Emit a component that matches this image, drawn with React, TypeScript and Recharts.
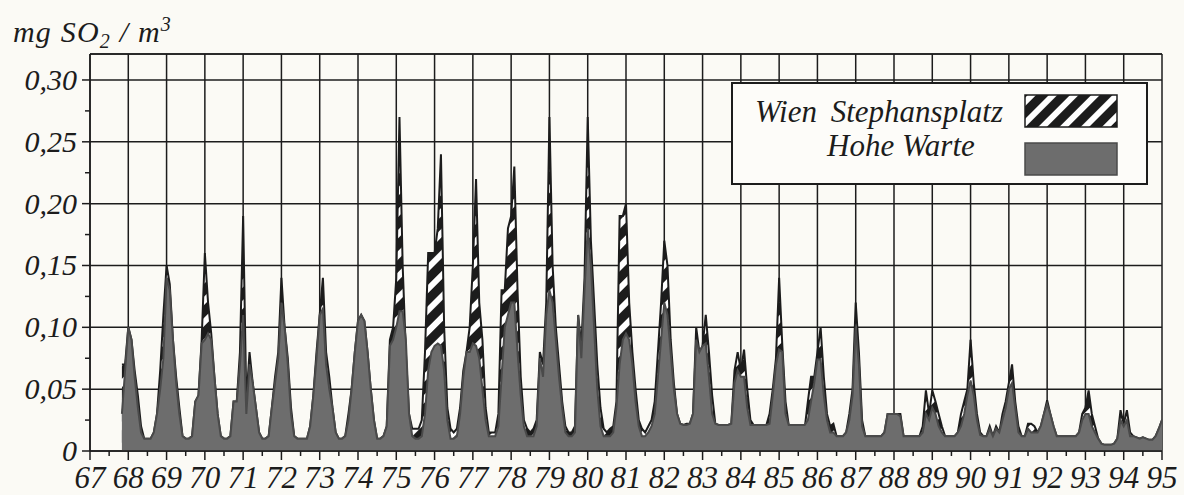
import { AreaChart, Area, XAxis, YAxis, CartesianGrid, ReferenceLine, Legend } from "recharts"

// monthly means, Jan 1967 .. Jan 1995 (mg SO2 / m3)
const stephansplatz = [
  null, null, null, null, null, null, null, null, null, null, 0.07, 0.07, // 67
  0.1, 0.09, 0.065, 0.045, 0.02, 0.01, 0.01, 0.01, 0.015, 0.03, 0.065, 0.11, // 68
  0.15, 0.135, 0.09, 0.06, 0.035, 0.012, 0.01, 0.01, 0.012, 0.04, 0.045, 0.09, // 69
  0.16, 0.12, 0.095, 0.06, 0.03, 0.012, 0.01, 0.01, 0.012, 0.04, 0.04, 0.08, // 70
  0.19, 0.04, 0.08, 0.055, 0.035, 0.015, 0.01, 0.01, 0.012, 0.035, 0.06, 0.08, // 71
  0.14, 0.1, 0.075, 0.035, 0.012, 0.01, 0.01, 0.01, 0.01, 0.02, 0.045, 0.08, // 72
  0.11, 0.14, 0.08, 0.06, 0.035, 0.015, 0.01, 0.01, 0.012, 0.03, 0.05, 0.08, // 73
  0.105, 0.11, 0.105, 0.08, 0.05, 0.025, 0.01, 0.01, 0.012, 0.02, 0.09, 0.1, // 74
  0.14, 0.27, 0.15, 0.08, 0.03, 0.018, 0.018, 0.018, 0.025, 0.08, 0.16, 0.16, // 75
  0.16, 0.18, 0.24, 0.1, 0.035, 0.018, 0.015, 0.018, 0.035, 0.065, 0.08, 0.1, // 76
  0.15, 0.22, 0.12, 0.09, 0.035, 0.015, 0.015, 0.015, 0.03, 0.13, 0.13, 0.18, // 77
  0.19, 0.23, 0.13, 0.06, 0.025, 0.018, 0.015, 0.018, 0.025, 0.08, 0.07, 0.12, // 78
  0.27, 0.15, 0.1, 0.07, 0.04, 0.02, 0.015, 0.015, 0.02, 0.11, 0.085, 0.14, // 79
  0.27, 0.17, 0.12, 0.07, 0.035, 0.018, 0.015, 0.018, 0.02, 0.04, 0.19, 0.19, // 80
  0.2, 0.12, 0.08, 0.05, 0.025, 0.018, 0.015, 0.02, 0.025, 0.04, 0.08, 0.12, // 81
  0.17, 0.15, 0.09, 0.055, 0.03, 0.022, 0.021, 0.022, 0.022, 0.03, 0.1, 0.08, // 82
  0.085, 0.11, 0.08, 0.045, 0.022, 0.021, 0.021, 0.021, 0.021, 0.022, 0.065, 0.08, // 83
  0.065, 0.082, 0.05, 0.025, 0.021, 0.021, 0.021, 0.021, 0.021, 0.03, 0.05, 0.075, // 84
  0.14, 0.085, 0.04, 0.021, 0.018, 0.015, 0.015, 0.015, 0.018, 0.04, 0.06, 0.06, // 85
  0.08, 0.1, 0.06, 0.03, 0.02, 0.022, 0.012, 0.012, 0.012, 0.015, 0.03, 0.05, // 86
  0.12, 0.08, 0.025, 0.012, 0.012, 0.012, 0.012, 0.012, 0.012, 0.015, 0.03, 0.03, // 87
  0.03, 0.03, 0.03, 0.012, 0.012, 0.012, 0.012, 0.012, 0.012, 0.02, 0.049, 0.03, // 88
  0.049, 0.04, 0.03, 0.02, 0.012, 0.012, 0.012, 0.012, 0.015, 0.03, 0.04, 0.05, // 89
  0.09, 0.055, 0.03, 0.015, 0.012, 0.012, 0.02, 0.012, 0.02, 0.015, 0.03, 0.04, // 90
  0.055, 0.07, 0.04, 0.02, 0.012, 0.012, 0.022, 0.022, 0.02, 0.015, 0.02, 0.03, // 91
  0.041, 0.03, 0.02, 0.012, 0.012, 0.012, 0.012, 0.012, 0.012, 0.012, 0.015, 0.03, // 92
  0.035, 0.049, 0.03, 0.02, 0.01, 0.006, 0.005, 0.005, 0.005, 0.006, 0.01, 0.033, // 93
  0.022, 0.033, 0.015, 0.012, 0.011, 0.01, 0.011, 0.01, 0.009, 0.009, 0.012, 0.018, // 94
  0.025, // 95
]

const hoheWarte = [
  null, null, null, null, null, null, null, null, null, null, 0.03, 0.065, // 67
  0.1, 0.09, 0.06, 0.035, 0.015, 0.01, 0.01, 0.01, 0.015, 0.03, 0.05, 0.075, // 68
  0.14, 0.13, 0.09, 0.055, 0.03, 0.012, 0.01, 0.01, 0.012, 0.04, 0.045, 0.087, // 69
  0.09, 0.095, 0.09, 0.06, 0.03, 0.012, 0.01, 0.01, 0.012, 0.04, 0.04, 0.07, // 70
  0.11, 0.03, 0.07, 0.055, 0.035, 0.015, 0.01, 0.01, 0.012, 0.035, 0.055, 0.075, // 71
  0.12, 0.1, 0.07, 0.03, 0.012, 0.01, 0.01, 0.01, 0.01, 0.02, 0.045, 0.075, // 72
  0.11, 0.115, 0.07, 0.05, 0.035, 0.015, 0.01, 0.01, 0.012, 0.025, 0.05, 0.08, // 73
  0.105, 0.11, 0.105, 0.08, 0.05, 0.025, 0.01, 0.01, 0.012, 0.02, 0.085, 0.09, // 74
  0.1, 0.113, 0.113, 0.09, 0.03, 0.012, 0.01, 0.01, 0.012, 0.03, 0.065, 0.08, // 75
  0.085, 0.087, 0.085, 0.065, 0.025, 0.01, 0.01, 0.012, 0.03, 0.06, 0.08, 0.08, // 76
  0.087, 0.085, 0.075, 0.05, 0.025, 0.012, 0.012, 0.012, 0.02, 0.06, 0.1, 0.11, // 77
  0.12, 0.12, 0.08, 0.045, 0.02, 0.012, 0.012, 0.012, 0.02, 0.075, 0.06, 0.11, // 78
  0.13, 0.12, 0.09, 0.06, 0.035, 0.015, 0.012, 0.012, 0.015, 0.11, 0.075, 0.13, // 79
  0.18, 0.15, 0.1, 0.05, 0.02, 0.012, 0.012, 0.012, 0.015, 0.035, 0.07, 0.09, // 80
  0.095, 0.09, 0.07, 0.04, 0.02, 0.012, 0.012, 0.015, 0.02, 0.03, 0.06, 0.09, // 81
  0.12, 0.11, 0.08, 0.05, 0.03, 0.022, 0.021, 0.021, 0.022, 0.03, 0.09, 0.08, // 82
  0.085, 0.087, 0.06, 0.03, 0.022, 0.021, 0.021, 0.021, 0.021, 0.022, 0.055, 0.065, // 83
  0.06, 0.06, 0.035, 0.021, 0.021, 0.021, 0.021, 0.021, 0.021, 0.022, 0.045, 0.07, // 84
  0.082, 0.08, 0.03, 0.021, 0.021, 0.021, 0.021, 0.021, 0.021, 0.025, 0.04, 0.055, // 85
  0.074, 0.074, 0.045, 0.025, 0.015, 0.015, 0.012, 0.012, 0.012, 0.015, 0.025, 0.045, // 86
  0.1, 0.07, 0.02, 0.012, 0.012, 0.012, 0.012, 0.012, 0.012, 0.015, 0.03, 0.03, // 87
  0.03, 0.03, 0.028, 0.012, 0.012, 0.012, 0.012, 0.012, 0.012, 0.015, 0.03, 0.025, // 88
  0.035, 0.03, 0.02, 0.015, 0.012, 0.012, 0.012, 0.012, 0.015, 0.02, 0.03, 0.045, // 89
  0.057, 0.045, 0.025, 0.013, 0.012, 0.012, 0.018, 0.012, 0.018, 0.015, 0.025, 0.035, // 90
  0.05, 0.055, 0.035, 0.015, 0.012, 0.012, 0.018, 0.015, 0.015, 0.015, 0.02, 0.03, // 91
  0.038, 0.03, 0.02, 0.012, 0.012, 0.012, 0.012, 0.012, 0.012, 0.012, 0.015, 0.025, // 92
  0.03, 0.03, 0.02, 0.015, 0.01, 0.006, 0.005, 0.005, 0.005, 0.006, 0.01, 0.025, // 93
  0.02, 0.025, 0.012, 0.012, 0.011, 0.01, 0.011, 0.01, 0.009, 0.009, 0.012, 0.018, // 94
  0.025, // 95
]

const yearTicks = [67, 68, 69, 70, 71, 72, 73, 74, 75, 76, 77, 78, 79, 80, 81, 82, 83, 84, 85, 86, 87, 88, 89, 90, 91, 92, 93, 94, 95]
const valueTicks = [0, 0.05, 0.1, 0.15, 0.2, 0.25, 0.3]
const FIRST_YEAR = 67

const data = hoheWarte.map((hw, i) => ({ x: FIRST_YEAR + i / 12, hw, sp: stephansplatz[i] }))

const W = 1184
const H = 495
const M = { top: 54, right: 22, bottom: 0, left: 0 }
const Y_AXIS_W = 90
const X_AXIS_H = 44
const Y_MAX = 0.321
const PLOT_W = W - M.left - M.right - Y_AXIS_W
const PLOT_H = H - M.top - M.bottom - X_AXIS_H
const HALF_YEAR = PLOT_W / (yearTicks[yearTicks.length - 1] - yearTicks[0]) / 2
const HALF_STEP = (0.025 / Y_MAX) * PLOT_H

const INK = "#1c1c1c"
const GRAY = "#6d6d6d"
const GRAY_EDGE = "#4a4a4a"
const PAPER = "#fbfaf5"
const FONT = "'Liberation Serif', 'Times New Roman', serif"

function XTick({ x, y, payload }: any) {
  const axisY = y - 9
  return (
    <g>
      <text x={x} y={y + 28} textAnchor="middle" fontFamily={FONT} fontStyle="italic" fontSize={31} fill={INK}>
        {payload.value}
      </text>
      {payload.value < 95 && (
        <line x1={x + HALF_YEAR} x2={x + HALF_YEAR} y1={axisY} y2={axisY + 5} stroke={INK} strokeWidth={1.5} />
      )}
    </g>
  )
}

function YTick({ x, y, payload }: any) {
  const axisX = x + 13
  const label = payload.value === 0 ? "0" : payload.value.toFixed(2).replace(".", ",")
  return (
    <g>
      <text x={x} y={y + 10} textAnchor="end" fontFamily={FONT} fontStyle="italic" fontSize={30} fill={INK}>
        {label}
      </text>
      {payload.value < 0.3 && (
        <line x1={axisX - 5} x2={axisX} y1={y - HALF_STEP} y2={y - HALF_STEP} stroke={INK} strokeWidth={1.5} />
      )}
    </g>
  )
}

function Hatch({ id }: { id: string }) {
  return (
    <pattern id={id} width={15} height={15} patternUnits="userSpaceOnUse" patternTransform="rotate(45)">
      <rect width={15} height={15} fill="#ffffff" />
      <rect width={9} height={15} fill={INK} />
    </pattern>
  )
}

function LegendBox() {
  return (
    <svg width={417} height={103} style={{ display: "block" }}>
      <defs>
        <Hatch id="hatchLegend" />
      </defs>
      <rect x={1} y={1} width={415} height={101} fill="#fdfcf9" stroke={INK} strokeWidth={2} />
      <text x={24} y={40} fontFamily={FONT} fontStyle="italic" fontSize={31} wordSpacing={6} fill={INK}>
        Wien Stephansplatz
      </text>
      <text x={96} y={74} fontFamily={FONT} fontStyle="italic" fontSize={31} fill={INK}>
        Hohe Warte
      </text>
      <rect x={294} y={13} width={92} height={32} fill="url(#hatchLegend)" stroke={INK} strokeWidth={1.5} />
      <rect x={294} y={61} width={92} height={32} fill={GRAY} stroke={GRAY_EDGE} strokeWidth={1.5} />
    </svg>
  )
}

export default function App() {
  return (
    <div style={{ position: "absolute", left: 0, top: 0, width: W, height: H, background: PAPER }}>
      <AreaChart width={W} height={H} data={data} margin={M}>
        <defs>
          <Hatch id="hatchChart" />
        </defs>
        <CartesianGrid stroke={INK} strokeWidth={1.5} />
        <XAxis
          type="number"
          dataKey="x"
          domain={[67, 95]}
          ticks={yearTicks}
          interval={0}
          allowDataOverflow
          height={X_AXIS_H}
          tickSize={9}
          tickMargin={0}
          stroke={INK}
          strokeWidth={1.5}
          tick={<XTick />}
        />
        <YAxis
          type="number"
          domain={[0, Y_MAX]}
          ticks={valueTicks}
          interval={0}
          allowDataOverflow
          width={Y_AXIS_W}
          tickSize={8}
          tickMargin={5}
          stroke={INK}
          strokeWidth={1.5}
          tick={<YTick />}
        />
        <ReferenceLine y={Y_MAX} stroke={INK} strokeWidth={1.5} />
        <Area
          type="linear"
          dataKey="sp"
          name="Wien Stephansplatz"
          fill="url(#hatchChart)"
          fillOpacity={1}
          stroke={INK}
          strokeWidth={2}
          dot={false}
          activeDot={false}
          isAnimationActive={false}
        />
        <Area
          type="linear"
          dataKey="hw"
          name="Hohe Warte"
          fill={GRAY}
          fillOpacity={1}
          stroke={GRAY_EDGE}
          strokeWidth={2}
          dot={false}
          activeDot={false}
          isAnimationActive={false}
        />
        <Legend
          layout="horizontal"
          verticalAlign="middle"
          align="center"
          content={() => <LegendBox />}
          wrapperStyle={{ position: "absolute", left: 731, top: 82, width: 417, height: 103 }}
        />
      </AreaChart>
      <svg width={200} height={54} style={{ position: "absolute", left: 0, top: 0 }}>
        <text x={13} y={42} fontFamily={FONT} fontStyle="italic" fontSize={30} letterSpacing={1.2} fill={INK}>
          mg SO
          <tspan dy={6} fontSize={20}>2</tspan>
          <tspan dy={-6}> / m</tspan>
          <tspan dy={-11} fontSize={20}>3</tspan>
        </text>
      </svg>
    </div>
  )
}
